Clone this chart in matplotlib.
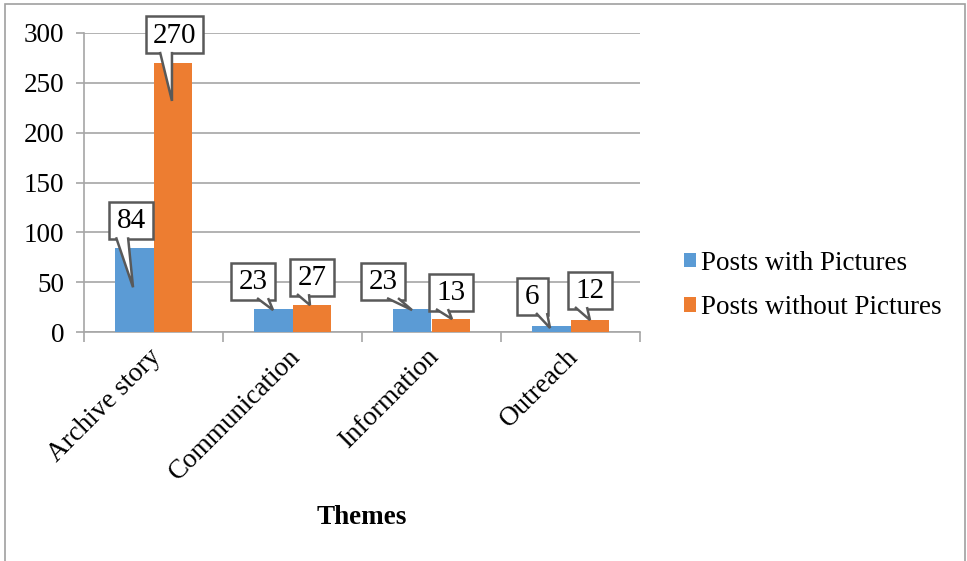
import numpy as np
import matplotlib
matplotlib.use("Agg")
import matplotlib.pyplot as plt
import matplotlib.transforms as mtransforms
from matplotlib.patches import Rectangle, Polygon

# ---- data ----
themes = ["Archive story", "Communication", "Information", "Outreach"]
with_pics = [84, 23, 23, 6]
without_pics = [270, 27, 13, 12]
series_names = ["Posts with Pictures", "Posts without Pictures"]

# ---- callout layout (pixels relative to bar top, y downwards) ----
box_off = [[(-3, -28), (-20, -28), (-29, -28), (-19, -30)],
           [(2, -28), (0, -28), (0, -27), (0, -30)]]
tip_off = [[(-1, 39), (0, 1), (0, 1), (-1, 2)],
           [(-1, 38), (-2, 0), (1, 0), (0, 0)]]

BLUE = "#5B9BD5"
ORANGE = "#ED7D31"
GRID = "#A6A6A6"
EDGE = "#595959"
FS = 19.5

plt.rcParams["font.family"] = ["Liberation Serif", "DejaVu Serif"]

fig = plt.figure(figsize=(9.67, 5.61), dpi=100)
ax = fig.add_axes([84 / 967, 1 - 332 / 561, (640 - 84) / 967, (332 - 33) / 561])

x = np.arange(len(themes))
w = 0.28
b1 = ax.bar(x - w / 2, with_pics, w, color=BLUE, label=series_names[0], zorder=3)
b2 = ax.bar(x + w / 2, without_pics, w, color=ORANGE, label=series_names[1], zorder=3)

ax.set_xlim(-0.5, len(themes) - 0.5)
ax.set_ylim(0, 300)
ax.set_yticks(range(0, 301, 50))
ax.yaxis.grid(True, color=GRID, lw=1.2, zorder=0)
for s in ["top", "right"]:
    ax.spines[s].set_visible(False)
for s in ["left", "bottom"]:
    ax.spines[s].set_color(GRID)
    ax.spines[s].set_linewidth(1.2)

ax.tick_params(axis="y", length=6, width=1.2, color=GRID, pad=8, labelsize=FS)
ax.set_xticks(x)
ax.set_xticklabels(themes, rotation=45, ha="right", rotation_mode="anchor", fontsize=FS)
ax.tick_params(axis="x", which="major", length=0, pad=9)
shift = mtransforms.ScaledTranslation(-5 / 100, 0, fig.dpi_scale_trans)
for lab in ax.get_xticklabels():
    lab.set_transform(lab.get_transform() + shift)
ax.set_xticks(np.arange(-0.5, len(themes)), minor=True)
ax.tick_params(axis="x", which="minor", length=7, width=1.2, color=GRID)

ax.set_xlabel("Themes", fontsize=FS, fontweight="bold")
ax.xaxis.set_label_coords(0.5, -(505 - 332) / (332 - 33))


def callout(xc, val, box, tip, text):
    # pixel offsets around the bar top, y pointing down
    tr = mtransforms.Affine2D().scale(1, -1) + mtransforms.ScaledTranslation(xc, val, ax.transData)
    bw = 13 * len(text) + 18
    bh = 37
    cx, cy = box
    ax.add_patch(Rectangle((cx - bw / 2, cy - bh / 2), bw, bh, transform=tr, fc="white",
                           ec=EDGE, lw=1.8, zorder=6, clip_on=False))
    if tip[0] - cx > 10:
        bx0, bx1 = cx + 4, cx + 15
    else:
        bx0, bx1 = cx - 15, cx - 3
    by = cy + bh / 2 - 1.5
    ax.add_patch(Polygon([(bx0, by), tip, (bx1, by)], closed=False, transform=tr,
                         fc="white", ec=EDGE, lw=1.8, zorder=7, clip_on=False,
                         joinstyle="miter"))
    ax.text(cx, cy + 1, text, transform=tr, ha="center", va="center", fontsize=21,
            zorder=8, clip_on=False)


for s, (vals, offs) in enumerate([(with_pics, -w / 2), (without_pics, w / 2)]):
    for i, v in enumerate(vals):
        callout(x[i] + offs, v, box_off[s][i], tip_off[s][i], str(v))

leg = fig.legend(handles=[b1, b2], loc="upper left", bbox_to_anchor=(673 / 967, 1 - 240 / 561),
                 frameon=False, fontsize=FS, handlelength=0.45, handleheight=0.45,
                 handletextpad=0.2, labelspacing=0.72, borderaxespad=0)

fig.add_artist(Rectangle((5 / 967, -0.02), 960 / 967, (561 - 4) / 561 + 0.02,
                         transform=fig.transFigure, fill=False, ec="#A0A0A0", lw=1.2))

fig.savefig("out.png", dpi=100)
